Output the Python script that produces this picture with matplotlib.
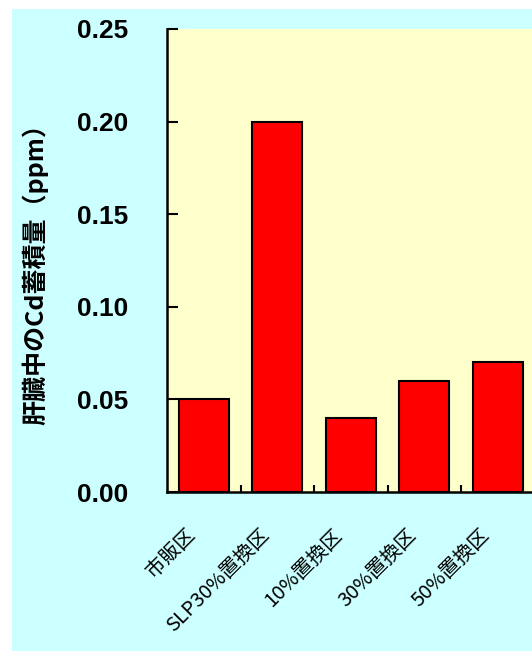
import matplotlib
matplotlib.use("Agg")
import matplotlib.pyplot as plt
from matplotlib.patches import Rectangle
from matplotlib.transforms import ScaledTranslation

categories = ["市販区", "SLP30%置換区", "10%置換区", "30%置換区", "50%置換区"]
cd_values = [0.05, 0.20, 0.04, 0.06, 0.07]
y_ticks = [0.00, 0.05, 0.10, 0.15, 0.20, 0.25]
y_label = "肝臓中のCd蓄積量（ppm）"

W, H = 532, 651
DPI = 100
fig = plt.figure(figsize=(W / DPI, H / DPI), dpi=DPI, facecolor="white")

# light cyan chart area
fig.patches.append(Rectangle((12 / W, 0), 1 - 12 / W, 1 - 9 / H,
                             transform=fig.transFigure, facecolor="#CCFFFF",
                             edgecolor="none", zorder=-5))

left, right, top, bottom = 167, 534.5, 29, 492
ax = fig.add_axes([left / W, 1 - bottom / H, (right - left) / W, (bottom - top) / H])
ax.set_zorder(2)
ax.set_facecolor("#FFFFCC")

x = list(range(len(categories)))
ax.bar(x, cd_values, width=0.68, color="#FF0000", edgecolor="black", linewidth=1.5, zorder=3)

ax.set_xlim(-0.5, len(categories) - 0.5)
ax.set_ylim(0, 0.25)

for s in ("top", "right"):
    ax.spines[s].set_visible(False)
for s in ("left", "bottom"):
    ax.spines[s].set_linewidth(1.8)
    ax.spines[s].set_color("black")
    ax.spines[s].set_zorder(4)

ax.set_yticks(y_ticks)
ax.set_yticklabels([f"{v:.2f}" for v in y_ticks])
ax.tick_params(axis="y", direction="in", length=8, width=1.5, pad=28)
for lab in ax.get_yticklabels():
    lab.set_fontfamily("Liberation Sans")
    lab.set_fontweight("bold")
    lab.set_fontsize(19)

# category boundaries carry the short ticks; labels sit at the category centres
ax.set_xticks([i + 0.5 for i in x[:-1]], minor=True)
ax.tick_params(axis="x", which="minor", direction="in", length=5, width=1.5)
ax.set_xticks(x)
ax.set_xticklabels(categories)
ax.tick_params(axis="x", which="major", length=0, pad=29)
shift = ScaledTranslation(-8 / 72, 0, fig.dpi_scale_trans)
for lab in ax.get_xticklabels():
    lab.set_fontfamily(["Noto Sans CJK JP", "DejaVu Sans"])
    lab.set_fontweight("normal")
    lab.set_fontsize(14.5)
    lab.set_rotation(45)
    lab.set_rotation_mode("anchor")
    lab.set_ha("right")
    lab.set_va("center")
    lab.set_transform(lab.get_transform() + shift)

fig.text(35 / W, 1 - 268 / H, y_label, rotation=90, ha="center", va="center",
         fontsize=18, fontweight="bold", family=["Noto Sans CJK JP", "DejaVu Sans"])

fig.savefig("out.png", dpi=DPI, facecolor="white")
